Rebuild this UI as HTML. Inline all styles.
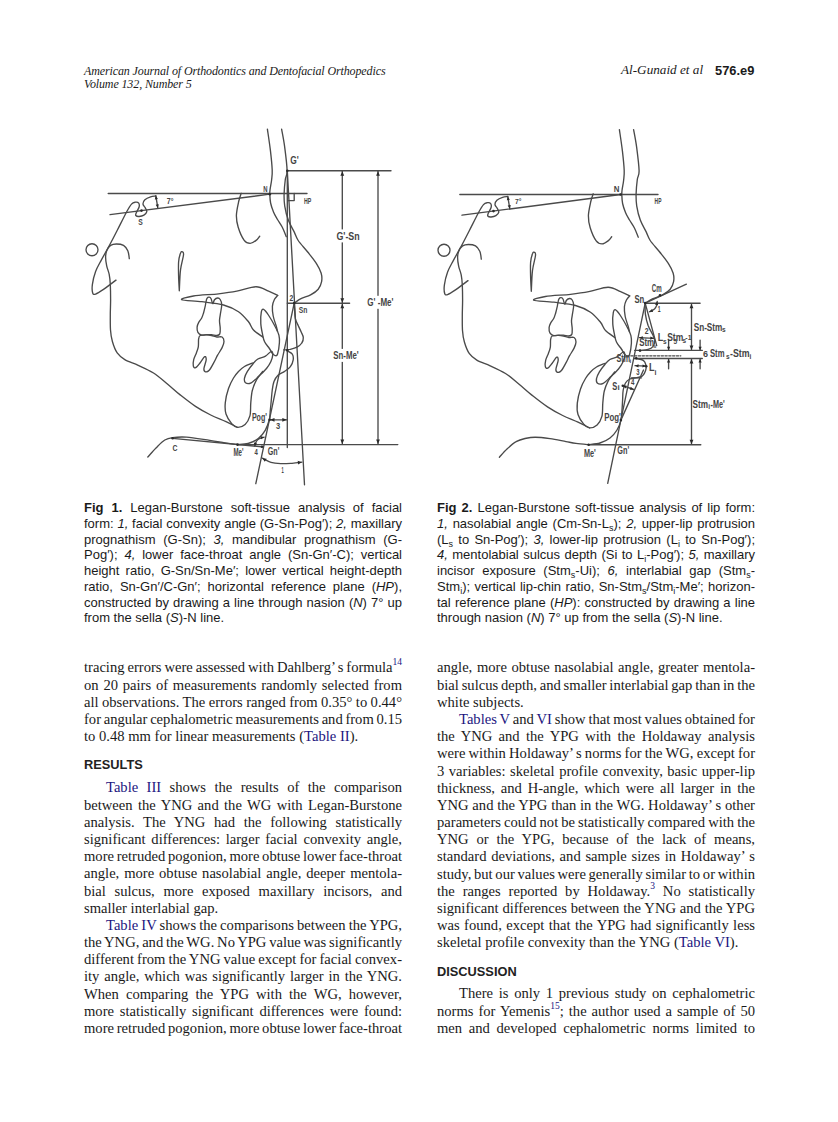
<!DOCTYPE html>
<html><head><meta charset="utf-8">
<style>
html,body{margin:0;padding:0;background:#fff;}
body{width:838px;height:1122px;position:relative;overflow:hidden;color:#1a1a1a;}
.hdr{position:absolute;font-family:"Liberation Serif",serif;font-style:italic;font-size:12px;letter-spacing:-0.12px;line-height:13px;white-space:nowrap;}
.pg{position:absolute;font-family:"Liberation Sans",sans-serif;font-weight:bold;font-size:12.85px;line-height:13px;white-space:nowrap;}
.cap{position:absolute;font-family:"Liberation Sans",sans-serif;font-size:13px;line-height:15.75px;width:318px;}
.col{position:absolute;font-family:"Liberation Serif",serif;font-size:14.6px;width:318px;}
.l{display:block;height:17.2px;line-height:17.2px;white-space:nowrap;text-align:justify;text-align-last:justify;}
.ind{padding-left:22px;}
.lk{color:#1b1580;}
.h{position:absolute;font-family:"Liberation Sans",sans-serif;font-weight:bold;font-size:12.8px;line-height:15px;color:#222;}
sup{font-size:9.5px;line-height:0;vertical-align:7px;color:#1b1580;}
.cl{display:block;white-space:nowrap;text-align:justify;text-align-last:justify;}
.e{text-align-last:left !important;}
.sb{font-size:9px;vertical-align:-2.5px;line-height:0;}
svg{position:absolute;}
.ln path,.ln circle{fill:none;stroke:#4a4a4a;stroke-width:1.35;stroke-linejoin:round;stroke-linecap:round;}
.ln .ah{fill:#2a2a2a;stroke:none;}
.bg{fill:#fff;stroke:none;}
.lab text{font-family:"Liberation Sans",sans-serif;font-weight:bold;fill:#444;}
</style></head>
<body>
<div class="hdr" style="left:84px;top:64.5px;"><span id="h1">American Journal of Orthodontics and Dentofacial Orthopedics</span><br><span id="h2">Volume 132, Number 5</span></div>
<div class="hdr" style="left:621px;top:62.8px;font-size:13.2px;letter-spacing:0;"><span id="h3">Al-Gunaid et al</span></div>
<div class="pg" style="left:715px;top:63.6px;"><span id="h4">576.e9</span></div>

<!-- captions -->
<div class="cap" style="left:84px;top:500.2px;">
<span class="cl"><b>Fig 1.</b> Legan-Burstone soft-tissue analysis of facial</span>
<span class="cl">form: <i>1,</i> facial convexity angle (G-Sn-Pog′); <i>2,</i> maxillary</span>
<span class="cl">prognathism (G-Sn); <i>3,</i> mandibular prognathism (G-</span>
<span class="cl">Pog′); <i>4,</i> lower face-throat angle (Sn-Gn′-C); vertical</span>
<span class="cl">height ratio, G-Sn/Sn-Me′; lower vertical height-depth</span>
<span class="cl">ratio, Sn-Gn′/C-Gn′; horizontal reference plane (<i>HP</i>),</span>
<span class="cl">constructed by drawing a line through nasion (<i>N</i>) 7° up</span>
<span class="cl e">from the sella (<i>S</i>)-N line.</span>
</div>
<div class="cap" style="left:437px;top:500.2px;">
<span class="cl"><b>Fig 2.</b> Legan-Burstone soft-tissue analysis of lip form:</span>
<span class="cl"><i>1,</i> nasolabial angle (Cm-Sn-L<span class="sb">s</span>); <i>2,</i> upper-lip protrusion</span>
<span class="cl">(L<span class="sb">s</span> to Sn-Pog′); <i>3,</i> lower-lip protrusion (L<span class="sb">i</span> to Sn-Pog′);</span>
<span class="cl"><i>4,</i> mentolabial sulcus depth (Si to L<span class="sb">i</span>-Pog′); <i>5,</i> maxillary</span>
<span class="cl">incisor exposure (Stm<span class="sb">s</span>-Ui); <i>6,</i> interlabial gap (Stm<span class="sb">s</span>-</span>
<span class="cl">Stm<span class="sb">i</span>); vertical lip-chin ratio, Sn-Stm<span class="sb">s</span>/Stm<span class="sb">i</span>-Me′; horizon-</span>
<span class="cl">tal reference plane (<i>HP</i>): constructed by drawing a line</span>
<span class="cl e">through nasion (<i>N</i>) 7° up from the sella (<i>S</i>)-N line.</span>
</div>

<!-- left column -->
<div class="col" style="left:84px;top:659.4px;">
<span class="l" style="word-spacing:-0.79px">tracing errors were assessed with Dahlberg’ s formula<sup>14</sup></span>
<span class="l">on 20 pairs of measurements randomly selected from</span>
<span class="l" style="word-spacing:-0.29px">all observations. The errors ranged from 0.35° to 0.44°</span>
<span class="l" style="word-spacing:-1.05px">for angular cephalometric measurements and from 0.15</span>
<span class="l e">to 0.48 mm for linear measurements (<span class="lk">Table II</span>).</span>
</div>
<div class="h" style="left:84px;top:757px;">RESULTS</div>
<div class="col" style="left:84px;top:779.4px;">
<span class="l ind"><span class="lk">Table III</span> shows the results of the comparison</span>
<span class="l">between the YNG and the WG with Legan-Burstone</span>
<span class="l">analysis. The YNG had the following statistically</span>
<span class="l">significant differences: larger facial convexity angle,</span>
<span class="l" style="word-spacing:-1.05px">more retruded pogonion, more obtuse lower face-throat</span>
<span class="l">angle, more obtuse nasolabial angle, deeper mentola-</span>
<span class="l">bial sulcus, more exposed maxillary incisors, and</span>
<span class="l e">smaller interlabial gap.</span>
<span class="l ind" style="word-spacing:-0.60px"><span class="lk">Table IV</span> shows the comparisons between the YPG,</span>
<span class="l" style="word-spacing:-0.91px">the YNG, and the WG. No YPG value was significantly</span>
<span class="l" style="word-spacing:-0.63px">different from the YNG value except for facial convex-</span>
<span class="l">ity angle, which was significantly larger in the YNG.</span>
<span class="l">When comparing the YPG with the WG, however,</span>
<span class="l">more statistically significant differences were found:</span>
<span class="l" style="word-spacing:-1.05px">more retruded pogonion, more obtuse lower face-throat</span>
</div>

<!-- right column -->
<div class="col" style="left:437px;top:659.4px;">
<span class="l">angle, more obtuse nasolabial angle, greater mentola-</span>
<span class="l" style="word-spacing:-0.93px">bial sulcus depth, and smaller interlabial gap than in the</span>
<span class="l e">white subjects.</span>
<span class="l ind" style="word-spacing:-0.79px"><span class="lk">Tables V</span> and <span class="lk">VI</span> show that most values obtained for</span>
<span class="l">the YNG and the YPG with the Holdaway analysis</span>
<span class="l" style="word-spacing:-0.51px">were within Holdaway’ s norms for the WG, except for</span>
<span class="l">3 variables: skeletal profile convexity, basic upper-lip</span>
<span class="l">thickness, and H-angle, which were all larger in the</span>
<span class="l">YNG and the YPG than in the WG. Holdaway’ s other</span>
<span class="l" style="word-spacing:-0.67px">parameters could not be statistically compared with the</span>
<span class="l">YNG or the YPG, because of the lack of means,</span>
<span class="l">standard deviations, and sample sizes in Holdaway’ s</span>
<span class="l" style="word-spacing:-1.00px">study, but our values were generally similar to or within</span>
<span class="l">the ranges reported by Holdaway.<sup>3</sup> No statistically</span>
<span class="l">significant differences between the YNG and the YPG</span>
<span class="l">was found, except that the YPG had significantly less</span>
<span class="l e">skeletal profile convexity than the YNG (<span class="lk">Table VI</span>).</span>
</div>
<div class="h" style="left:437px;top:964px;">DISCUSSION</div>
<div class="col" style="left:437px;top:985.4px;">
<span class="l ind">There is only 1 previous study on cephalometric</span>
<span class="l">norms for Yemenis<sup>15</sup>; the author used a sample of 50</span>
<span class="l">men and developed cephalometric norms limited to</span>
</div>

<!--SVG-->
<svg width="838" height="1122" viewBox="0 0 838 1122" style="left:0;top:0">
<defs><clipPath id="c2"><rect x="420" y="110" width="400" height="400"/></clipPath>
<g id="face" fill="none" stroke="#4a4a4a" stroke-width="1.35" stroke-linejoin="round" stroke-linecap="round"><path d="M116.0 280.1 C113.9 281.7 106.9 287.1 103.5 289.4 C100.1 291.7 97.4 293.5 95.6 294.1 C93.8 294.7 93.2 294.6 92.7 293.0 C92.2 291.4 91.9 288.0 92.4 284.4 C92.9 280.8 94.1 275.6 95.6 271.5 C97.1 267.4 99.0 264.4 101.3 260.1 C103.6 255.8 106.5 250.8 109.2 245.8 C111.9 240.8 114.5 235.7 117.4 230.0 C120.3 224.3 124.4 216.0 126.7 211.7 C129.1 207.4 130.1 205.7 131.5 204.1 C132.9 202.5 134.1 202.4 135.3 202.2 C136.5 202.0 138.1 202.3 138.7 203.1 C139.3 203.9 139.5 205.4 139.1 207.0 C138.7 208.6 136.9 211.3 136.3 212.7 C135.8 214.1 135.3 214.9 135.8 215.5 C136.3 216.1 137.8 216.6 139.1 216.5 C140.4 216.4 142.6 215.9 143.9 215.1 C145.2 214.3 146.6 212.9 146.8 211.7 C147.0 210.5 145.9 209.2 145.3 207.9 C144.7 206.6 143.1 205.4 143.0 204.1 C142.9 202.8 143.6 201.0 144.9 199.8 C146.2 198.6 148.8 197.5 150.6 196.9 C152.4 196.3 154.9 196.2 155.8 196.0"/>
<circle cx="92" cy="249.7" r="6"/>
<path d="M129.3 258.6 C129.1 257.3 128.8 253.0 127.8 250.8 C126.8 248.6 125.4 246.5 123.5 245.4 C121.6 244.3 118.6 244.0 116.4 244.0 C114.2 244.0 112.2 244.3 110.6 245.4 C109.0 246.5 107.5 248.8 106.7 250.8 C105.9 252.8 105.6 254.7 105.6 257.2 C105.6 259.7 106.1 262.9 106.7 265.8 C107.3 268.7 108.6 271.3 109.2 274.4 C109.8 277.5 110.1 280.1 110.3 284.4 C110.5 288.7 110.6 294.9 110.6 300.0 C110.6 305.1 110.3 310.0 110.3 315.0 C110.3 320.0 110.2 325.6 110.5 330.0 C110.8 334.4 111.3 337.7 112.4 341.5 C113.5 345.3 115.1 349.9 117.2 352.9 C119.3 355.9 121.3 357.5 124.8 359.6 C128.3 361.7 133.4 363.1 138.2 365.3 C143.0 367.5 148.7 370.0 153.5 373.0 C158.3 376.0 162.4 379.9 166.8 383.5 C171.2 387.1 175.4 391.1 180.2 394.9 C185.0 398.7 190.4 403.0 195.5 406.4 C200.6 409.8 205.6 412.5 210.7 415.0 C215.8 417.5 221.5 419.5 226.0 421.6 C230.5 423.7 235.6 426.4 237.5 427.4"/>
<path d="M179.3 290.7 C179.5 287.2 179.8 275.9 180.5 270.0 C181.2 264.1 183.2 258.0 183.5 255.0 C183.8 252.0 183.0 252.1 182.5 251.8 C182.0 251.5 181.2 251.3 180.6 253.0 C179.9 254.7 178.9 258.2 178.6 262.0 C178.3 265.8 178.5 271.2 178.6 276.0 C178.7 280.8 179.2 288.2 179.3 290.7"/>
<path d="M241.2 193.3 C240.8 194.6 239.6 197.3 238.8 201.0 C238.0 204.7 236.5 210.9 236.4 215.3 C236.3 219.7 236.9 223.1 238.2 227.3 C239.5 231.5 242.2 237.7 244.2 240.4 C246.2 243.1 248.1 243.4 250.1 243.4 C252.1 243.4 254.5 241.6 256.1 240.4 C257.7 239.2 259.1 236.9 259.7 236.2"/>
<path d="M267.4 129.1 C267.9 132.7 269.6 143.6 270.4 150.4 C271.2 157.2 272.0 165.1 272.2 170.0 C272.4 174.9 271.9 176.9 271.6 180.0 C271.3 183.1 270.5 186.3 270.2 188.6 C269.9 190.9 269.7 191.6 269.8 194.0 C269.9 196.4 270.0 200.0 270.6 203.0 C271.2 206.0 272.4 209.2 273.5 212.0 C274.6 214.8 276.0 216.9 277.5 219.5 C279.0 222.1 280.8 224.4 282.3 227.3 C283.8 230.2 285.6 235.1 286.3 236.7"/>
<path d="M277.7 295.4 C276.2 294.7 272.2 292.6 268.6 291.2 C265.0 289.8 261.4 286.7 256.1 286.7 C250.8 286.7 243.1 290.0 236.8 291.2 C230.5 292.4 225.7 293.0 218.5 293.8 C211.3 294.6 199.5 295.0 193.4 296.0 C187.3 297.0 180.3 298.8 181.7 299.7 C183.1 300.6 194.8 300.8 201.8 301.7 C208.8 302.6 217.4 303.3 223.5 305.0 C229.6 306.7 234.3 308.9 238.5 311.7 C242.7 314.5 246.0 318.8 248.5 321.8 C251.0 324.9 251.1 327.5 253.5 330.0 C255.9 332.5 261.2 335.8 262.7 337.0"/>
<path d="M277.7 295.4 C277.1 296.1 275.2 297.9 274.3 299.7 C273.4 301.5 272.6 303.7 272.4 306.4 C272.2 309.1 272.6 312.7 273.2 316.0 C273.8 319.3 275.5 323.4 276.2 326.0 C276.9 328.6 277.3 330.4 277.5 331.3"/>
<path d="M263.6 309.3 C264.8 309.8 266.5 312.1 268.4 315.0 C270.3 317.9 273.4 323.1 275.1 326.5 C276.9 329.9 278.2 332.4 278.9 335.1 C279.6 337.8 279.6 339.5 279.4 342.7 C279.2 345.9 278.2 352.0 277.5 354.2 C276.8 356.4 276.0 355.8 275.1 355.6 C274.2 355.4 273.1 354.4 272.2 353.2 C271.2 352.0 270.7 350.4 269.4 348.5 C268.1 346.6 265.7 344.0 264.6 341.8 C263.5 339.6 263.3 338.1 262.7 335.1 C262.1 332.1 261.0 327.4 260.8 323.6 C260.6 319.8 260.8 314.6 261.3 312.2 C261.8 309.8 262.4 308.8 263.6 309.3Z"/>
<path d="M271.3 351.3 C270.1 351.5 267.7 354.8 265.5 356.1 C263.3 357.4 260.0 357.7 257.9 359.0 C255.8 360.3 254.8 361.6 253.1 363.7 C251.3 365.8 248.8 369.0 247.4 371.4 C246.0 373.8 244.8 376.2 244.5 378.1 C244.2 380.0 244.4 382.0 245.5 382.8 C246.6 383.6 249.0 383.9 251.2 382.8 C253.4 381.7 256.3 378.5 258.9 376.1 C261.4 373.7 264.5 370.9 266.5 368.5 C268.5 366.1 269.8 364.0 270.8 361.8 C271.8 359.6 272.6 356.9 272.7 355.1 C272.8 353.4 272.5 351.1 271.3 351.3Z"/>
<path d="M253.1 362.8 C251.7 363.4 246.9 365.1 244.5 366.5 C242.1 367.9 240.3 369.6 238.5 371.5 C236.7 373.4 235.2 375.2 233.5 378.0 C231.8 380.8 229.9 384.4 228.5 388.5 C227.1 392.6 225.7 398.4 225.3 402.6 C224.9 406.9 224.9 410.5 226.0 414.0 C227.1 417.5 229.8 421.4 231.7 423.6 C233.6 425.8 235.3 427.2 237.5 427.4 C239.7 427.5 243.0 426.4 245.1 424.5 C247.2 422.6 248.9 419.5 249.9 415.9 C250.9 412.2 250.4 406.8 250.8 402.6 C251.2 398.4 251.4 394.1 252.3 390.5 C253.2 386.9 254.3 384.1 256.0 380.9 C257.7 377.7 261.6 373.0 262.7 371.4"/>
<path d="M205.1 306.7 C205.5 305.1 205.5 304.3 205.8 302.9 C206.1 301.5 206.4 299.2 207.0 298.3 C207.6 297.4 208.5 297.1 209.2 297.2 C209.9 297.3 210.5 297.6 211.1 298.7 C211.7 299.8 212.1 303.4 212.7 303.6 C213.3 303.8 213.7 300.7 214.5 299.8 C215.3 298.9 216.7 298.1 217.6 298.0 C218.5 297.9 219.5 298.4 220.2 299.5 C220.9 300.6 221.6 302.2 221.7 304.4 C221.8 306.6 221.0 310.0 220.6 312.7 C220.2 315.4 219.6 317.8 219.5 320.3 C219.4 322.8 220.1 325.6 220.2 327.9 C220.2 330.2 220.4 332.6 219.8 333.9 C219.2 335.2 218.2 335.4 216.8 335.5 C215.4 335.6 213.1 334.8 211.5 334.7 C209.9 334.6 208.6 334.6 207.0 334.7 C205.4 334.8 203.2 335.5 201.7 335.1 C200.2 334.7 198.7 333.7 197.9 332.4 C197.1 331.1 197.0 328.7 197.1 327.1 C197.2 325.5 197.8 324.1 198.6 322.6 C199.4 321.1 200.9 319.6 201.7 318.0 C202.5 316.4 203.0 314.6 203.6 312.7 C204.2 310.8 204.7 308.3 205.1 306.7Z"/>
<path d="M200.2 335.5 C198.9 336.2 198.9 337.3 198.6 339.2 C198.3 341.1 198.7 344.5 198.3 346.8 C197.9 349.1 197.2 350.8 196.4 352.9 C195.6 355.0 194.2 357.5 193.7 359.7 C193.2 361.9 193.0 364.5 193.3 365.8 C193.6 367.1 194.4 368.2 195.6 367.7 C196.8 367.2 198.7 364.5 200.2 362.7 C201.7 360.9 203.7 357.2 204.7 356.7 C205.7 356.2 206.3 357.7 206.2 359.7 C206.1 361.7 204.0 366.8 203.9 368.8 C203.8 370.8 204.6 371.6 205.5 371.8 C206.4 372.1 207.8 371.8 209.2 370.3 C210.6 368.8 212.4 365.2 213.8 362.7 C215.2 360.2 216.2 357.7 217.6 355.2 C219.0 352.7 221.0 349.9 222.1 347.6 C223.2 345.3 224.0 343.3 224.0 341.5 C224.0 339.7 223.3 337.8 222.1 337.0 C220.9 336.2 218.6 337.2 216.8 337.0 C215.0 336.8 213.3 335.9 211.5 335.5 C209.7 335.1 208.1 334.9 206.2 334.9 C204.3 334.9 201.5 334.8 200.2 335.5Z"/></g></defs>
<g class="ln">
<use href="#face"/>
<path d="M281.6 129.1 C282.1 132.0 283.7 139.5 284.6 146.4 C285.5 153.3 287.0 165.2 287.1 170.7 C287.2 176.2 285.8 175.6 285.3 179.5 C284.8 183.4 284.2 189.5 284.1 193.9 C284.0 198.3 284.0 201.4 284.7 205.8 C285.4 210.2 286.7 215.7 288.3 220.1 C289.9 224.5 292.7 228.7 294.3 232.1 C295.9 235.5 296.0 237.2 298.2 240.5 C300.4 243.8 304.7 248.2 307.7 252.0 C310.7 255.8 314.1 259.9 316.3 263.4 C318.5 266.9 320.2 270.0 321.1 273.0 C322.0 276.0 322.1 278.9 321.6 281.6 C321.1 284.3 320.0 287.0 318.2 289.2 C316.4 291.4 313.5 293.3 310.6 294.9 C307.7 296.5 303.7 297.3 301.0 298.7 C298.3 300.1 295.5 302.3 294.4 303.0"/>
<path d="M294.2 303.6 C294.3 304.7 294.4 307.4 294.6 310.0 C294.8 312.6 294.8 316.2 295.4 318.9 C296.0 321.6 297.4 323.8 298.4 326.0 C299.4 328.2 300.4 330.1 301.2 332.0 C302.0 333.9 303.2 335.7 303.3 337.5 C303.4 339.3 302.9 341.4 301.8 343.0 C300.8 344.6 299.0 346.1 297.0 347.2 C295.0 348.3 292.2 348.9 290.0 349.4 C287.8 349.8 284.8 349.8 283.7 349.9"/>
<path d="M287.0 350.8 C287.9 351.4 291.3 352.7 292.3 354.2 C293.3 355.7 293.5 357.8 293.2 359.9 C292.9 362.0 291.8 364.7 290.4 366.6 C289.0 368.5 286.7 370.0 284.6 371.4 C282.5 372.8 279.8 373.5 278.0 375.2 C276.2 376.9 275.0 378.9 274.0 381.5 C273.0 384.1 272.6 387.4 272.2 390.5 C271.8 393.6 271.6 396.7 271.3 400.0 C271.0 403.3 270.6 407.1 270.3 410.3 C270.0 413.6 270.2 416.1 269.4 419.5 C268.5 422.9 267.0 427.2 265.2 430.4 C263.4 433.6 261.2 436.3 258.3 438.5 C255.5 440.7 251.6 442.5 248.1 443.5 C244.6 444.5 239.3 444.4 237.5 444.6"/>
<path d="M108.2 193.5 L307.0 193.5"/>
<path d="M110.0 214.6 L269.8 194.2"/>
<path d="M287.3 170.7 L391.0 170.7"/>
<path d="M287.3 170.7 L287.3 447.5"/>
<path d="M287.3 170.7 L304.5 484.8"/>
<path d="M287.6 200.6 H294.2 V193.5"/>
<path d="M287.3 303.2 L349.6 303.2"/>
<path d="M237.5 444.6 L397.8 444.6"/>
<path d="M294.2 303.1 L255.8 483.7"/>
<path d="M172.6 438.3 L262.0 446.8"/>
<path d="M147.8 457.0 C149.2 455.5 153.2 450.8 156.0 448.0 C158.8 445.2 162.0 441.7 164.8 440.0 C167.6 438.3 169.0 438.1 172.6 437.6 C176.2 437.1 180.3 436.7 186.5 437.1 C192.7 437.6 203.4 439.4 209.8 440.3 C216.2 441.2 220.4 442.1 225.0 442.8 C229.6 443.5 235.4 444.3 237.5 444.6"/>
<path d="M342.3 171.2 L342.3 302.7"/><path class="ah" d="M342.3 302.7 L340.4 298.2 L344.2 298.2 Z"/><path class="ah" d="M342.3 171.2 L344.2 175.7 L340.4 175.7 Z"/>
<path d="M342.3 303.7 L342.3 444.1"/><path class="ah" d="M342.3 444.1 L340.4 439.6 L344.2 439.6 Z"/><path class="ah" d="M342.3 303.7 L344.2 308.2 L340.4 308.2 Z"/>
<path d="M378.0 171.2 L378.0 444.1"/><path class="ah" d="M378.0 444.1 L376.1 439.6 L379.9 439.6 Z"/><path class="ah" d="M378.0 171.2 L379.9 175.7 L376.1 175.7 Z"/>
<path d="M270.0 419.8 L286.8 419.8"/><path class="ah" d="M286.8 419.8 L282.3 421.7 L282.3 417.9 Z"/><path class="ah" d="M270.0 419.8 L274.5 417.9 L274.5 421.7 Z"/>
<path d="M155.8 195.7 L157.8 207.9"/><path class="ah" d="M157.8 207.9 L155.7 204.7 L158.8 204.2 Z"/><path class="ah" d="M155.8 195.7 L157.9 198.9 L154.8 199.4 Z"/>
<path d="M262.3 458.2 C263.8 458.9 267.9 461.4 271.0 462.3 C274.1 463.2 277.1 463.4 280.6 463.6 C284.1 463.8 288.4 463.5 292.0 463.3 C295.6 463.1 300.2 462.4 301.9 462.2"/>
<path class="ah" d="M262.3 458.2 L266.7 458.7 L264.8 461.8 Z"/>
<path class="ah" d="M301.9 462.2 L298.1 464.4 L297.7 460.8 Z"/>
<path d="M254.8 446.2 C255.1 445.4 255.6 442.8 256.3 441.5 C257.1 440.2 258.0 439.3 259.3 438.6 C260.6 437.9 263.4 437.4 264.2 437.2"/>
<path class="ah" d="M254.8 446.2 L253.7 442.5 L256.9 443.0 Z"/>
<path class="ah" d="M264.2 437.2 L261.0 439.3 L260.5 436.1 Z"/>
<circle class="ah" cx="141.5" cy="210.6" r="1.3"/>
<circle class="ah" cx="269.8" cy="194.2" r="1.3"/>
<circle class="ah" cx="287.3" cy="170.7" r="1.3"/>
<circle class="ah" cx="294.2" cy="303.1" r="1.3"/>
<circle class="ah" cx="269.6" cy="419.8" r="1.3"/>
<circle class="ah" cx="237.5" cy="444.6" r="1.3"/>
<circle class="ah" cx="172.6" cy="438.3" r="1.3"/>
<circle class="ah" cx="262.0" cy="446.8" r="1.3"/>
<circle class="ah" cx="287.3" cy="350.2" r="1.3"/>
<g clip-path="url(#c2)"><use href="#face" transform="translate(352 0.5)"/>
<path d="M633.6 129.6 C634.1 132.5 635.7 140.1 636.6 146.9 C637.5 153.8 639.0 165.3 639.1 170.7 C639.2 176.1 637.8 175.6 637.3 179.5 C636.8 183.4 636.2 189.5 636.1 193.9 C636.0 198.3 636.0 201.4 636.7 205.8 C637.4 210.2 638.7 215.7 640.3 220.1 C641.9 224.5 644.6 228.7 646.3 232.1 C647.9 235.5 648.0 237.2 650.2 240.5 C652.4 243.8 656.7 248.2 659.7 252.0 C662.7 255.8 666.1 259.9 668.3 263.4 C670.5 266.9 672.2 270.0 673.1 273.0 C674.0 276.0 674.1 278.9 673.6 281.6 C673.1 284.3 672.0 287.0 670.2 289.2 C668.4 291.4 665.5 293.3 662.6 294.9 C659.7 296.5 655.9 297.3 653.0 298.7 C650.1 300.1 646.5 302.4 645.2 303.1"/>
<path d="M499.4 457.2 C500.7 455.8 504.2 451.6 507.0 449.0 C509.8 446.4 513.1 443.4 516.1 441.7 C519.1 439.9 521.8 439.2 525.0 438.5 C528.2 437.8 531.0 437.2 535.2 437.2 C539.4 437.2 544.9 437.9 550.0 438.6 C555.1 439.3 561.7 440.8 566.0 441.6 C570.3 442.4 572.2 442.9 576.0 443.4 C579.8 443.9 586.5 444.5 588.6 444.7"/>
<path d="M645.2 303.6 C645.2 305.4 644.9 310.5 645.4 314.1 C645.9 317.8 646.9 322.0 648.1 325.5 C649.4 329.0 651.8 332.6 652.9 335.1 C654.0 337.7 654.8 338.9 654.8 340.8 C654.8 342.7 654.0 345.2 652.9 346.6 C651.8 348.0 650.2 348.7 648.1 349.4 C646.0 350.1 641.8 350.4 640.5 350.6"/>
<path d="M636.2 358.5 C637.4 358.8 641.7 359.3 643.3 360.4 C644.9 361.5 645.5 363.3 645.9 365.0 C646.3 366.7 646.2 368.6 645.6 370.5 C645.0 372.4 643.8 374.9 642.4 376.1 C641.0 377.3 639.1 377.1 637.0 377.6 C634.9 378.1 631.9 378.1 630.0 379.0 C628.1 379.9 626.6 381.2 625.5 383.0 C624.4 384.8 623.7 387.2 623.2 390.0 C622.7 392.8 622.8 396.7 622.6 400.0 C622.4 403.3 622.3 406.6 622.0 410.0 C621.7 413.4 621.8 416.8 621.0 420.1 C620.2 423.4 618.8 427.0 617.0 430.0 C615.2 433.0 612.8 435.8 610.0 438.0 C607.2 440.2 603.6 441.9 600.0 443.0 C596.4 444.1 590.5 444.4 588.6 444.7"/>
</g>
<path d="M459.8 194.5 L658.0 194.5"/>
<path d="M462.0 215.2 L620.6 194.5"/>
<path d="M507.8 196.6 L509.8 208.8"/><path class="ah" d="M509.8 208.8 L507.7 205.6 L510.8 205.1 Z"/><path class="ah" d="M507.8 196.6 L509.9 199.8 L506.8 200.3 Z"/>
<path d="M645.2 303.1 L686.4 284.2"/>
<path d="M645.2 303.2 L700.1 303.2"/>
<path d="M645.2 303.1 L656.7 345.6"/>
<path d="M645.2 303.1 L607.7 483.4"/>
<path d="M634.7 350.4 L702.3 350.4"/>
<path d="M633.8 358.5 L702.3 358.5" stroke-width="1.5"/>
<path d="M627 355.8 H680.8" stroke-dasharray="2.2 1.6"/>
<path d="M588.6 444.7 L700.8 444.7"/>
<path d="M643.5 370.0 L620.9 420.1"/>
<path d="M631.5 377.8 L641.5 377.8"/>
<path d="M691.5 303.7 L691.5 349.9"/><path class="ah" d="M691.5 349.9 L689.6 345.4 L693.4 345.4 Z"/><path class="ah" d="M691.5 303.7 L693.4 308.2 L689.6 308.2 Z"/>
<path d="M691.5 359.0 L691.5 444.2"/><path class="ah" d="M691.5 444.2 L689.6 439.7 L693.4 439.7 Z"/><path class="ah" d="M691.5 359.0 L693.4 363.5 L689.6 363.5 Z"/>
<path d="M668.6 340.1 L668.6 350.2"/>
<path class="ah" d="M668.6 350.2 L667.0 346.7 L670.2 346.7 Z"/>
<path d="M668.6 368.7 L668.6 358.9"/>
<path class="ah" d="M668.6 358.9 L670.2 362.4 L667.0 362.4 Z"/>
<path d="M700.1 340.1 L700.1 350.2"/>
<path class="ah" d="M700.1 350.2 L698.5 346.7 L701.7 346.7 Z"/>
<path d="M700.1 368.7 L700.1 358.9"/>
<path class="ah" d="M700.1 358.9 L701.7 362.4 L698.5 362.4 Z"/>
<path d="M653.8 338.3 L639.3 337.6"/><path class="ah" d="M639.3 337.6 L642.9 336.2 L642.7 339.4 Z"/><path class="ah" d="M653.8 338.3 L650.2 339.7 L650.4 336.5 Z"/>
<path d="M646.0 366.1 L635.0 365.7"/><path class="ah" d="M635.0 365.7 L638.6 364.2 L638.4 367.4 Z"/><path class="ah" d="M646.0 366.1 L642.4 367.6 L642.6 364.4 Z"/>
<path d="M622.8 385.7 L633.6 389.5"/><path class="ah" d="M633.6 389.5 L629.8 389.8 L630.8 386.8 Z"/><path class="ah" d="M622.8 385.7 L626.6 385.4 L625.6 388.4 Z"/>
<path d="M657.2 301.5 C657.1 302.1 657.2 303.8 656.8 305.0 C656.3 306.2 655.7 307.9 654.5 309.0 C653.3 310.1 650.3 311.2 649.5 311.7"/>
<path class="ah" d="M657.2 301.5 L658.1 305.2 L654.9 304.6 Z"/>
<path class="ah" d="M649.3 311.7 L652.0 308.9 L653.1 311.9 Z"/>
<circle class="ah" cx="493.5" cy="211.1" r="1.3"/>
<circle class="ah" cx="620.6" cy="194.5" r="1.3"/>
<circle class="ah" cx="645.2" cy="303.1" r="1.3"/>
<circle class="ah" cx="660.0" cy="295.3" r="1.3"/>
<circle class="ah" cx="640.0" cy="350.6" r="1.3"/>
<circle class="ah" cx="636.2" cy="358.3" r="1.3"/>
<circle class="ah" cx="646.2" cy="366.3" r="1.3"/>
<circle class="ah" cx="622.8" cy="385.7" r="1.3"/>
<circle class="ah" cx="620.9" cy="420.1" r="1.3"/>
<circle class="ah" cx="588.6" cy="444.7" r="1.3"/>
</g>
<g class="lab">
<text x="290.3" y="163.6" font-size="11.0" textLength="8.5" lengthAdjust="spacingAndGlyphs">G'</text>
<text x="263.3" y="192.0" font-size="9.5" textLength="4.3" lengthAdjust="spacingAndGlyphs">N</text>
<text x="303.9" y="204.2" font-size="9.5" textLength="7.3" lengthAdjust="spacingAndGlyphs">HP</text>
<rect class="bg" x="334.9" y="229.4" width="26.3" height="13.0"/><text x="336.4" y="239.5" font-size="11.0" textLength="23.3" lengthAdjust="spacingAndGlyphs">G'-Sn</text>
<text x="166.8" y="203.6" font-size="8.5" textLength="6.7" lengthAdjust="spacingAndGlyphs">7°</text>
<text x="138.2" y="224.6" font-size="9.5" textLength="4.5" lengthAdjust="spacingAndGlyphs">S</text>
<text x="289.6" y="301.1" font-size="8.5" textLength="3.8" lengthAdjust="spacingAndGlyphs">2</text>
<text x="298.7" y="313.1" font-size="9.5" textLength="8.6" lengthAdjust="spacingAndGlyphs">Sn</text>
<rect class="bg" x="365.8" y="295.8" width="29.2" height="13.0"/><text x="367.3" y="305.9" font-size="11.0" textLength="26.2" lengthAdjust="spacingAndGlyphs">G' -Me'</text>
<rect class="bg" x="331.8" y="348.9" width="28.4" height="13.0"/><text x="333.3" y="359.0" font-size="11.0" textLength="25.4" lengthAdjust="spacingAndGlyphs">Sn-Me'</text>
<text x="251.9" y="420.5" font-size="10.5" textLength="15.0" lengthAdjust="spacingAndGlyphs">Pog'</text>
<text x="276.1" y="428.7" font-size="8.5" textLength="4.2" lengthAdjust="spacingAndGlyphs">3</text>
<text x="172.5" y="451.2" font-size="9.5" textLength="5.0" lengthAdjust="spacingAndGlyphs">C</text>
<text x="233.5" y="456.2" font-size="10.0" textLength="10.0" lengthAdjust="spacingAndGlyphs">Me'</text>
<text x="254.4" y="454.6" font-size="8.5" textLength="3.3" lengthAdjust="spacingAndGlyphs">4</text>
<text x="267.8" y="455.4" font-size="10.0" textLength="11.6" lengthAdjust="spacingAndGlyphs">Gn'</text>
<text x="281.6" y="472.6" font-size="8.5" textLength="2.2" lengthAdjust="spacingAndGlyphs">1</text>
<text x="613.8" y="191.7" font-size="9.5" textLength="5.7" lengthAdjust="spacingAndGlyphs">N</text>
<text x="654.6" y="204.2" font-size="8.5" textLength="6.8" lengthAdjust="spacingAndGlyphs">HP</text>
<text x="515.1" y="203.6" font-size="8.0" textLength="6.4" lengthAdjust="spacingAndGlyphs">7°</text>
<text x="651.7" y="291.8" font-size="10.5" textLength="9.9" lengthAdjust="spacingAndGlyphs">Cm</text>
<text x="634.5" y="303.0" font-size="10.0" textLength="9.8" lengthAdjust="spacingAndGlyphs">Sn</text>
<text x="657.8" y="311.6" font-size="8.5" textLength="2.8" lengthAdjust="spacingAndGlyphs">1</text>
<text x="644.8" y="334.1" font-size="8.5" textLength="3.8" lengthAdjust="spacingAndGlyphs">2</text>
<text x="657.8" y="341" font-size="10.5" textLength="5.5" lengthAdjust="spacingAndGlyphs">L</text><text x="663" y="343.5" font-size="6.5">s</text>
<text x="667.2" y="340.8" font-size="10.5" textLength="16" lengthAdjust="spacingAndGlyphs">Stm</text><text x="682.5" y="343" font-size="6.5">s</text><text x="685.3" y="340" font-size="7">-1</text><text x="673.6" y="344.4" font-size="6.5">5</text>
<text x="639.2" y="346" font-size="10" textLength="15" lengthAdjust="spacingAndGlyphs">Stm</text><text x="653" y="348" font-size="6">s</text>
<text x="616.6" y="362" font-size="10.5" textLength="13.5" lengthAdjust="spacingAndGlyphs">Stm</text><text x="629.5" y="363" font-size="6">i</text>
<text x="649" y="370.5" font-size="10.5" textLength="5.5" lengthAdjust="spacingAndGlyphs">L</text><text x="654.5" y="374.5" font-size="7">i</text>
<text x="636.2" y="375.2" font-size="8.5" textLength="3.3" lengthAdjust="spacingAndGlyphs">3</text>
<text x="630.9" y="384.7" font-size="8.5" textLength="3.4" lengthAdjust="spacingAndGlyphs">4</text>
<text x="612.3" y="390" font-size="10.5" textLength="5" lengthAdjust="spacingAndGlyphs">S</text><text x="617.5" y="390" font-size="8">i</text>
<text x="693.7" y="330.5" font-size="11" textLength="28.6" lengthAdjust="spacingAndGlyphs">Sn-Stm</text><text x="722" y="332.2" font-size="6.5">s</text>
<text x="703" y="357" font-size="9">6</text><text x="710" y="357" font-size="11" textLength="14.5" lengthAdjust="spacingAndGlyphs">Stm</text><text x="726" y="358.8" font-size="6.5">s</text><text x="730" y="357" font-size="11" textLength="19.5" lengthAdjust="spacingAndGlyphs">-Stm</text><text x="749.5" y="358.8" font-size="6.5">i</text>
<text x="692.5" y="407.5" font-size="11" textLength="15.5" lengthAdjust="spacingAndGlyphs">Stm</text><text x="708.2" y="409" font-size="6.5">i</text><text x="710.5" y="407.5" font-size="11" textLength="14.2" lengthAdjust="spacingAndGlyphs">-Me'</text>
<text x="604.2" y="420.6" font-size="10.5" textLength="16.7" lengthAdjust="spacingAndGlyphs">Pog'</text>
<text x="617.3" y="453.5" font-size="10.0" textLength="11.9" lengthAdjust="spacingAndGlyphs">Gn'</text>
<text x="583.9" y="457.1" font-size="10.0" textLength="11.9" lengthAdjust="spacingAndGlyphs">Me'</text>
</g>
</svg>
<!--/SVG-->
</body></html>
